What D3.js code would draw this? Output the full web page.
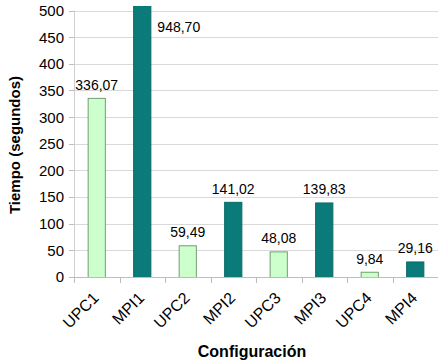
<!DOCTYPE html>
<html>
<head>
<meta charset="utf-8">
<script src="https://cdn.jsdelivr.net/npm/d3@7"></script>
<style>
  html, body { margin: 0; padding: 0; background: #fff; }
  svg { display: block; font-family: Arial, "Liberation Sans", sans-serif; }
</style>
</head>
<body>
<svg id="chart" width="438" height="364"></svg>
<script>
// Execution times per configuration
const categories = ["UPC1", "MPI1", "UPC2", "MPI2", "UPC3", "MPI3", "UPC4", "MPI4"];
const values = [336.07, 948.70, 59.49, 141.02, 48.08, 139.83, 9.84, 29.16];
const valueLabels = ["336,07", "948,70", "59,49", "141,02", "48,08", "139,83", "9,84", "29,16"];
const yTicks = [0, 50, 100, 150, 200, 250, 300, 350, 400, 450, 500];
const yTitle = "Tiempo (segundos)";
const xTitle = "Configuración";

const svg = d3.select("#chart");
const plotLeft = 74, plotRight = 438, plotTop = 6, plotBottom = 277;

const x = d3.scaleBand().domain(categories).range([plotLeft, plotRight]).paddingInner(0.6).paddingOuter(0.3);
const xb = d3.scaleBand().domain(categories).range([plotLeft, plotRight]);
const y = d3.scaleLinear().domain([0, 500]).range([plotBottom, 10.5]);

// horizontal gridlines
svg.append("g").selectAll("line").data(yTicks.slice(1)).join("line")
  .attr("x1", plotLeft).attr("x2", plotRight)
  .attr("y1", d => Math.round(y(d)) + 0.5).attr("y2", d => Math.round(y(d)) + 0.5)
  .attr("stroke", "#d9d9d9").attr("stroke-width", 1);

// y axis ticks and labels
const yg = svg.append("g");
yg.selectAll("line").data(yTicks).join("line")
  .attr("x1", plotLeft - 5).attr("x2", plotLeft)
  .attr("y1", d => Math.round(y(d)) + 0.5).attr("y2", d => Math.round(y(d)) + 0.5)
  .attr("stroke", "#bdbdbd");
yg.selectAll("text").data(yTicks).join("text")
  .attr("x", plotLeft - 10).attr("y", d => y(d))
  .attr("dy", "0.36em").attr("text-anchor", "end")
  .attr("font-size", 15).attr("fill", "#000")
  .text(d => d);
svg.append("line").attr("x1", plotLeft + 0.5).attr("x2", plotLeft + 0.5)
  .attr("y1", y(500)).attr("y2", plotBottom).attr("stroke", "#d0d0d0");

// bars, clipped at the top of the plot area
svg.append("clipPath").attr("id", "plot")
  .append("rect").attr("x", plotLeft).attr("y", plotTop).attr("width", plotRight - plotLeft).attr("height", plotBottom - plotTop);

const data = categories.map((c, i) => ({ c, v: values[i], label: valueLabels[i], upc: c.startsWith("UPC") }));

svg.append("g").attr("clip-path", "url(#plot)")
  .selectAll("rect").data(data).join("rect")
  .attr("x", d => x(d.c) + 0.5)
  .attr("y", d => y(d.v) + 0.5)
  .attr("width", x.bandwidth() - 1)
  .attr("height", d => plotBottom - y(d.v))
  .attr("fill", d => d.upc ? "#ccffcc" : "#0a7b78")
  .attr("stroke", d => d.upc ? "#6f9f72" : "#066b68")
  .attr("stroke-width", 1);

// value labels
svg.append("g").selectAll("text").data(data).join("text")
  .attr("font-size", 14).attr("fill", "#000")
  .attr("text-anchor", d => d.v > 500 ? "start" : "middle")
  .attr("x", d => d.v > 500 ? x(d.c) + x.bandwidth() + 6 : x(d.c) + x.bandwidth() / 2)
  .attr("y", d => d.v > 500 ? 32 : y(d.v) - 8)
  .text(d => d.label);

// x axis
svg.append("line").attr("x1", plotLeft - 4).attr("x2", plotRight)
  .attr("y1", plotBottom + 0.5).attr("y2", plotBottom + 0.5).attr("stroke", "#bdbdbd");
svg.append("g").selectAll("line").data(categories).join("line")
  .attr("x1", d => Math.round(xb(d)) + 0.5).attr("x2", d => Math.round(xb(d)) + 0.5)
  .attr("y1", plotBottom).attr("y2", plotBottom + 6).attr("stroke", "#bdbdbd");

svg.append("g").selectAll("text").data(categories).join("text")
  .attr("font-size", 16).attr("fill", "#000").attr("text-anchor", "end")
  .attr("transform", d => `translate(${xb(d) + xb.bandwidth() / 2 + 3},${plotBottom + 22}) rotate(-45)`)
  .text(d => d);

// axis titles
svg.append("text").attr("font-size", 15).attr("font-weight", "bold").attr("text-anchor", "middle")
  .attr("transform", "translate(20,145) rotate(-90)").text(yTitle);
svg.append("text").attr("font-size", 16).attr("font-weight", "bold").attr("text-anchor", "middle")
  .attr("x", 252).attr("y", 357).text(xTitle);
</script>
</body>
</html>
